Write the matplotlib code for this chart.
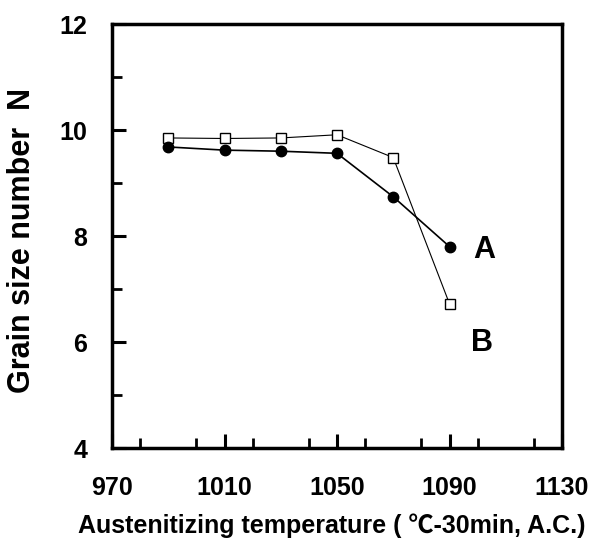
import matplotlib
matplotlib.use("Agg")
import matplotlib.pyplot as plt
from matplotlib.ticker import MultipleLocator

plt.rcParams["font.family"] = ["Liberation Sans", "DejaVu Sans"]
plt.rcParams["font.weight"] = "bold"

# ----------------------------
# Data
# ----------------------------
temperature = [990, 1010, 1030, 1050, 1070, 1090]
grain_a = [9.68, 9.62, 9.60, 9.56, 8.74, 7.80]
grain_b = [9.85, 9.84, 9.85, 9.91, 9.48, 6.72]

x_ticks = [970, 1010, 1050, 1090, 1130]
y_ticks = [4, 6, 8, 10, 12]

fig = plt.figure(figsize=(5.96, 5.40), dpi=100)
ax = fig.add_axes([112 / 596, 1 - 448 / 540, 450 / 596, 424 / 540])

ax.plot(temperature, grain_b, color="black", lw=0.8, marker="s", ms=7,
        mfc="white", mec="black", mew=1.0, zorder=3)
ax.plot(temperature, grain_a, color="black", lw=1.2, marker="o", ms=7.5,
        mfc="black", mec="black", zorder=4)

ax.text(1102.4, 7.73, "A", fontsize=22, fontweight="bold", ha="center", va="center")
ax.text(1101.4, 5.98, "B", fontsize=22, fontweight="bold", ha="center", va="center")

ax.set_xlim(970, 1130)
ax.set_ylim(4, 12)
ax.set_xticks(x_ticks)
ax.set_yticks(y_ticks)
ax.xaxis.set_minor_locator(MultipleLocator(20))
ax.yaxis.set_minor_locator(MultipleLocator(1))

ax.tick_params(which="major", direction="in", length=10, width=2.2,
               labelsize=18)
ax.tick_params(which="minor", direction="in", length=7, width=2.0)
ax.tick_params(axis="x", which="major", pad=20)
ax.tick_params(axis="y", which="major", pad=18)
for lab in ax.get_xticklabels() + ax.get_yticklabels():
    lab.set_fontweight("bold")

for s in ax.spines.values():
    s.set_linewidth(2.5)

ax.set_xlabel("Austenitizing temperature ( \u2103-30min, A.C.)", fontsize=18,
              fontweight="bold", family=["Liberation Sans", "Noto Sans CJK JP"])
ax.xaxis.set_label_coords(0.488, -0.183)
ax.xaxis.label.set_va("center")

ax.set_ylabel("Grain size number  N", fontsize=22, fontweight="bold")
ax.yaxis.set_label_coords(-0.199, 0.489)
ax.yaxis.label.set_va("center")
ax.yaxis.label.set_ha("center")

fig.savefig("out.png", dpi=100)
